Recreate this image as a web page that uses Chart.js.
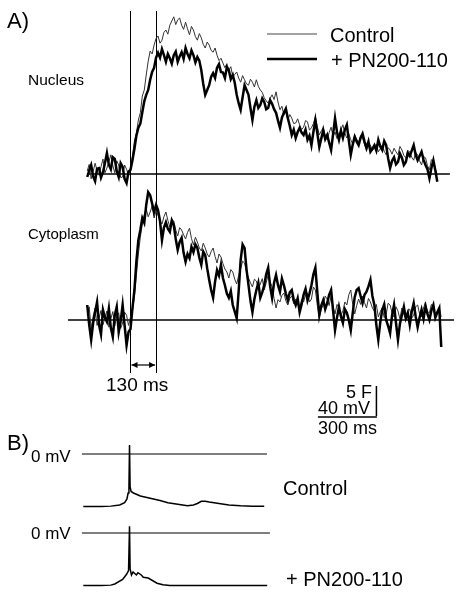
<!DOCTYPE html>
<html>
<head>
<meta charset="utf-8">
<script src="https://cdn.jsdelivr.net/npm/chart.js@4.4.0/dist/chart.umd.min.js"></script>
<style>
  body { margin: 0; background: #fff; }
  #wrap { position: relative; width: 457px; height: 592px; }
  .t { position: absolute; transform: translateY(-50%); line-height: 1; white-space: nowrap;
       font-family: "Liberation Sans", Arial, sans-serif; color: #000; }
</style>
</head>
<body>
<div id="wrap">
  <canvas id="fig" width="457" height="592"></canvas>
  <div class="t" style="left:7px;top:21px;font-size:22px">A)</div>
  <div class="t" style="left:330px;top:35px;font-size:20px">Control</div>
  <div class="t" style="left:331px;top:60px;font-size:20px">+ PN200-110</div>
  <div class="t" style="left:28px;top:80px;font-size:15.5px">Nucleus</div>
  <div class="t" style="left:28px;top:233px;font-size:15px">Cytoplasm</div>
  <div class="t" style="left:106px;top:384px;font-size:19px">130 ms</div>
  <div class="t" style="right:85px;top:392px;font-size:18px">5 F</div>
  <div class="t" style="left:318px;top:408px;font-size:18px">40 mV</div>
  <div class="t" style="left:318px;top:428px;font-size:18px">300 ms</div>
  <div class="t" style="left:7px;top:443px;font-size:22px">B)</div>
  <div class="t" style="left:31px;top:456px;font-size:17px">0 mV</div>
  <div class="t" style="left:283px;top:488px;font-size:20px">Control</div>
  <div class="t" style="left:31px;top:533px;font-size:17px">0 mV</div>
  <div class="t" style="left:286px;top:579px;font-size:20px">+ PN200-110</div>
</div>
<script>
// sampling grid of the fluorescence traces (ms, 0 = action potential)
var T0 = -220, DT = 10;
var times = Array.from({ length: 181 }, function (_, i) { return T0 + i * DT; });

// nucleus fluorescence (F), one row = 100 ms
var nucControl = [
  0.5, 1.6, -0.8, 0.4, 1.8, 0.6, -0.2, 1.2, 2.5, 0.2,
  1.0, 2.0, 3.2, 1.4, 0.2, 2.2, 1.5, -0.6, -0.5, 1.5,
  0.8, -0.3, 1.0, 3.0, 5.5, 6.8, 9.0, 10.2, 13.0, 14.0,
  16.5, 18.8, 20.5, 20.0, 21.5, 22.6, 23.0, 21.8, 22.3, 23.6,
  24.0, 23.3, 24.8, 25.5, 26.2, 24.9, 25.7, 26.0, 24.8, 24.1,
  25.3, 24.2, 23.2, 24.6, 24.0, 22.9, 22.3, 23.4, 22.7, 21.6,
  21.0, 22.0, 21.5, 20.6, 20.3, 21.0, 19.8, 18.9, 19.3, 18.5,
  17.7, 18.4, 17.3, 17.9, 16.2, 16.6, 17.0, 16.0, 15.3, 16.4,
  15.7, 15.0, 14.8, 15.8, 15.3, 14.5, 15.7, 14.6, 14.0, 13.6,
  12.7, 12.2, 11.8, 12.6, 13.2, 12.4, 13.7, 12.0, 10.7, 11.3,
  9.8, 10.4, 9.0, 9.9, 9.3, 8.4, 8.5, 9.2, 8.2, 7.4,
  7.8, 8.9, 8.7, 7.3, 7.7, 8.4, 9.5, 7.9, 6.5, 7.2,
  7.7, 6.4, 5.7, 6.9, 7.8, 6.3, 7.0, 5.9, 6.5, 7.4,
  8.2, 6.8, 6.0, 6.7, 5.7, 5.0, 6.5, 5.8, 5.3, 6.4,
  6.0, 4.9, 4.0, 5.1, 4.8, 3.9, 4.3, 5.0, 3.7, 4.2,
  4.8, 3.8, 3.2, 4.4, 4.0, 3.3, 4.3, 3.7, 3.2, 4.6,
  4.0, 3.1, 2.7, 3.9, 3.7, 2.8, 2.3, 3.6, 3.2, 2.2,
  1.5, 2.9, 2.7, 1.4, 0.7, 2.4, 2.0, 0.9, -0.2, null,
  null
];
var nucPN = [
  -0.5, 0.6, 1.5, -0.4, -1.2, 0.9, 1.0, -0.6, 0.3, 1.8,
  3.5, 1.5, 0.8, 2.8, 2.5, 0.5, -0.5, 1.8, 1.2, -0.8,
  -1.5, 0.4, 0.7, 2.3, 4.2, 6.4, 7.7, 8.4, 10.3, 12.1,
  13.2, 14.0, 15.7, 17.0, 17.7, 19.4, 20.2, 19.4, 20.8, 19.8,
  18.7, 20.0, 19.3, 18.4, 19.8, 20.4, 18.7, 19.6, 20.3, 19.2,
  21.0, 20.0, 19.3, 20.6, 19.8, 18.6, 19.5, 18.9, 17.3, 15.0,
  13.2, 14.0, 14.8, 16.2, 16.8, 16.0, 17.7, 18.3, 17.0, 16.9,
  16.0, 17.8, 17.3, 15.8, 16.5, 15.2, 13.2, 11.8, 10.7, 12.8,
  14.8, 14.0, 13.2, 11.0, 9.0, 11.2, 12.3, 11.0, 11.5, 12.6,
  12.0, 10.8, 11.0, 12.3, 11.7, 10.8, 10.2, 8.9, 7.7, 9.4,
  10.2, 10.9, 9.3, 8.0, 6.5, 7.4, 6.0, 7.0, 7.7, 6.9,
  6.5, 7.4, 5.7, 6.4, 4.8, 7.0, 9.0, 6.8, 4.5, 5.9,
  7.3, 5.8, 6.5, 5.2, 4.0, 6.6, 9.3, 7.0, 5.7, 7.2,
  6.0, 7.4, 8.2, 5.6, 3.2, 4.9, 6.2, 5.4, 4.8, 6.0,
  6.7, 5.4, 4.3, 5.4, 3.7, 4.2, 4.8, 3.9, 5.7, 4.6,
  4.0, 5.5, 4.8, 2.6, 1.0, 2.2, 2.8, 1.6, 2.0, 3.4,
  2.7, 1.5, 2.0, 3.5, 3.0, 3.9, 4.8, 3.2, 2.3, 3.0,
  3.7, 2.4, 1.5, 0.8, -0.7, 1.0, 2.3, 0.6, -1.3, null,
  null
];

// cytoplasm fluorescence (F), one row = 100 ms
var cytControl = [
  0.8, 2.2, -1.5, 0.6, 2.0, -0.9, 0.3, 1.6, -0.8, 0.4,
  1.5, -1.2, 0.2, 1.4, -1.0, 0.6, 1.2, -1.4, -0.5, 1.3,
  0.8, -0.9, 0.5, 1.5, 4.0, 7.5, 11.0, 13.8, 16.0, 17.6,
  18.5, 17.2, 18.0, 19.0, 17.0, 18.2, 17.5, 16.6, 16.0, 17.2,
  18.0, 16.6, 15.5, 16.8, 16.5, 15.0, 14.0, 15.4, 15.0, 14.2,
  13.5, 14.6, 15.3, 13.6, 12.5, 13.8, 13.0, 12.0, 11.5, 12.8,
  12.0, 11.0, 10.5, 11.4, 12.0, 10.6, 9.5, 11.0, 10.5, 9.4,
  8.5, 8.0, 7.0, 8.4, 8.0, 6.8, 6.0, 7.4, 8.5, 9.8,
  9.5, 8.0, 7.0, 6.2, 5.5, 6.8, 6.5, 5.2, 6.0, 6.9,
  5.0, 6.2, 7.5, 6.4, 5.5, 3.6, 2.0, 3.4, 3.0, 4.1,
  4.5, 3.2, 2.5, 3.6, 4.0, 2.7, 3.5, 2.6, 2.0, 3.4,
  3.0, 4.2, 4.5, 3.0, 3.5, 5.5, 5.0, 2.4, 0.5, 1.8,
  2.5, 4.0, 3.5, 2.4, 4.0, 2.2, 1.0, 2.6, 2.0, 0.8,
  1.5, 3.0, 2.5, 4.2, 5.0, 2.6, 1.0, 2.4, 3.5, 2.6,
  4.0, 2.9, 2.0, 3.6, 3.0, 2.0, 1.5, 2.6, 0.5, 1.4,
  2.0, 0.4, 1.0, 2.8, 2.5, 1.2, 0.5, 2.2, 1.5, 0.2,
  2.0, 1.0, 0.0, 1.6, 1.8, 0.3, 0.8, 2.2, 2.5, 1.0,
  0.5, 2.0, 3.0, 1.4, 1.2, 2.6, 2.0, 0.6, 1.0, 2.1,
  0.5
];
var cytPN = [
  2.5, -0.8, -3.3, -0.5, 1.3, 3.0, -0.8, -2.4, 1.7, 0.4,
  -0.3, 1.9, -1.3, -2.8, 0.8, 2.2, -2.0, -0.2, 2.5, -0.9,
  -4.2, -2.0, -1.5, 2.0, 5.0, 9.8, 13.3, 15.0, 17.0, 16.2,
  19.2, 21.3, 20.8, 19.4, 18.0, 19.2, 18.3, 16.5, 13.3, 15.4,
  16.3, 15.2, 14.7, 16.6, 15.8, 13.5, 11.7, 13.0, 13.7, 11.2,
  9.7, 11.0, 10.3, 12.2, 11.3, 12.6, 12.0, 10.4, 9.2, 11.4,
  10.8, 8.6, 6.7, 5.0, 3.7, 6.4, 8.3, 7.4, 9.2, 7.0,
  5.8, 4.4, 3.7, 4.8, 2.5, 1.4, 0.3, 4.8, 10.0, 12.6,
  12.0, 8.4, 5.8, 3.2, 1.3, 3.5, 5.0, 6.2, 3.7, 4.6,
  5.8, 7.6, 8.7, 5.6, 3.7, 6.2, 7.5, 5.8, 4.7, 6.9,
  5.8, 4.4, 3.3, 4.6, 5.0, 3.4, 2.5, 3.6, 1.3, 2.6,
  4.2, 5.2, 3.3, 4.4, 5.8, 7.6, 8.7, 4.6, 0.8, 2.4,
  3.3, 1.8, 2.8, 4.2, 5.0, 1.6, -1.7, 0.4, 2.2, 0.6,
  -0.5, 1.8, 1.2, 0.0, -1.7, 1.2, 3.8, 5.0, 5.3, 4.0,
  2.8, 4.2, 4.7, 5.6, 6.7, 4.0, 2.5, -0.8, -3.3, -0.4,
  1.7, 2.6, 0.0, -1.0, -2.2, 0.8, 2.5, -0.5, -3.3, -0.6,
  0.8, 2.2, 0.3, 1.2, -0.8, 1.4, 2.8, 0.6, -1.2, 0.4,
  1.7, 0.2, 2.2, 1.0, 0.0, 1.6, 2.5, 0.4, 1.3, 2.0,
  -4.5
];

// membrane potential (mV), panel B
var apTimesControl = [-240, -150, -100, -55, -30, -18, -12, -8, -5, -2, 3, 15, 50, 100, 150, 190, 240, 290, 320, 340, 360, 380, 400, 450, 500, 560, 620, 680];
var apControl      = [-70, -70, -69.5, -68, -65, -60, -52, -46, 12, -44, -50, -52, -56, -59, -62, -65, -67, -69, -68, -66, -63, -63, -64, -66, -68, -69, -69.5, -69.5];
var apTimesPN = [-240, -150, -100, -80, -40, -20, -10, -5, -2, 5, 13, 30, 38, 55, 65, 90, 135, 165, 200, 400, 695];
var apPN      = [-70, -70, -69.5, -68, -62, -55, -50, 9, -48, -56, -52, -56, -53, -56, -59, -60, -67, -69, -70, -70, -70];

var markerTimes = [0, 130];
var scaleBarMs = 300, scaleBarF = 5;

// page geometry
var W = 457, H = 592;
var pxPerMs = 59 / 300, zeroX = 130.5;

function fitAxis(zeroPx, pxPerUnit) {
  return { type: 'linear', display: false, min: (zeroPx - H) / pxPerUnit, max: zeroPx / pxPerUnit };
}

function pairs(xs, ys) {
  return xs.map(function (x, i) { return { x: x, y: ys[i] }; });
}

function trace(label, xs, ys, axis, width, color, order) {
  return {
    label: label, data: pairs(xs, ys), yAxisID: axis,
    borderColor: color, borderWidth: width, pointRadius: 0,
    tension: 0, fill: false, spanGaps: false, order: order
  };
}

var furniture = {
  id: 'furniture',
  beforeDatasetsDraw: function (chart) {
    var ctx = chart.ctx, s = chart.scales;
    var x = s.x, yN = s.yN, yC = s.yC, yB1 = s.yB1, yB2 = s.yB2;
    ctx.save();
    ctx.strokeStyle = '#000';

    function hline(axis, t1, t2, w) {
      var py = axis.getPixelForValue(0);
      ctx.lineWidth = w;
      ctx.beginPath();
      ctx.moveTo(x.getPixelForValue(t1), py);
      ctx.lineTo(x.getPixelForValue(t2), py);
      ctx.stroke();
    }
    hline(yN, -215, 1624, 1.3);
    hline(yC, -318, 1645, 1.3);
    hline(yB1, -247, 694, 1.2);
    hline(yB2, -247, 709, 1.2);

    // stimulus markers
    ctx.lineWidth = 1;
    markerTimes.forEach(function (t) {
      var px = Math.round(x.getPixelForValue(t)) + 0.5;
      ctx.beginPath();
      ctx.moveTo(px, 11);
      ctx.lineTo(px, 373);
      ctx.stroke();
    });

    // double arrow between markers
    var a = x.getPixelForValue(markerTimes[0]) + 1, b = x.getPixelForValue(markerTimes[1]) - 1, ay = 365;
    ctx.lineWidth = 1.2;
    ctx.beginPath();
    ctx.moveTo(a, ay); ctx.lineTo(b, ay);
    ctx.stroke();
    ctx.fillStyle = '#000';
    ctx.beginPath();
    ctx.moveTo(a, ay); ctx.lineTo(a + 6, ay - 3); ctx.lineTo(a + 6, ay + 3); ctx.closePath();
    ctx.moveTo(b, ay); ctx.lineTo(b - 6, ay - 3); ctx.lineTo(b - 6, ay + 3); ctx.closePath();
    ctx.fill();

    // scale bar
    var barEnd = 1253;
    var bx1 = x.getPixelForValue(barEnd - scaleBarMs), bx2 = x.getPixelForValue(barEnd), by = 417;
    var fLen = yN.getPixelForValue(0) - yN.getPixelForValue(scaleBarF);
    ctx.lineWidth = 1.5;
    ctx.beginPath();
    ctx.moveTo(bx1, by); ctx.lineTo(bx2, by);
    ctx.moveTo(bx2 - 0.5, by - 1); ctx.lineTo(bx2 - 0.5, by - 1 - fLen);
    ctx.stroke();

    // legend samples
    ctx.lineWidth = 1;
    ctx.strokeStyle = '#444';
    ctx.beginPath(); ctx.moveTo(267, 34); ctx.lineTo(317, 34); ctx.stroke();
    ctx.lineWidth = 2.6;
    ctx.strokeStyle = '#000';
    ctx.beginPath(); ctx.moveTo(267, 59); ctx.lineTo(317, 59); ctx.stroke();
    ctx.restore();
  }
};

new Chart(document.getElementById('fig'), {
  type: 'line',
  data: {
    datasets: [
      trace('+ PN200-110 nucleus', times, nucPN, 'yN', 2.5, '#000', 1),
      trace('Control nucleus', times, nucControl, 'yN', 1, '#333', 2),
      trace('+ PN200-110 cytoplasm', times, cytPN, 'yC', 2.5, '#000', 1),
      trace('Control cytoplasm', times, cytControl, 'yC', 1, '#333', 2),
      trace('Control Vm', apTimesControl, apControl, 'yB1', 1.5, '#000', 1),
      trace('+ PN200-110 Vm', apTimesPN, apPN, 'yB2', 1.5, '#000', 1)
    ]
  },
  options: {
    responsive: false,
    animation: false,
    devicePixelRatio: 1,
    layout: { padding: 0 },
    scales: {
      x: { type: 'linear', display: false, min: -zeroX / pxPerMs, max: (W - zeroX) / pxPerMs },
      yN: fitAxis(174, 6),
      yC: fitAxis(320, 6),
      yB1: fitAxis(454, 0.75),
      yB2: fitAxis(533, 0.75)
    },
    plugins: { legend: { display: false }, tooltip: { enabled: false } }
  },
  plugins: [furniture]
});
</script>
</body>
</html>
